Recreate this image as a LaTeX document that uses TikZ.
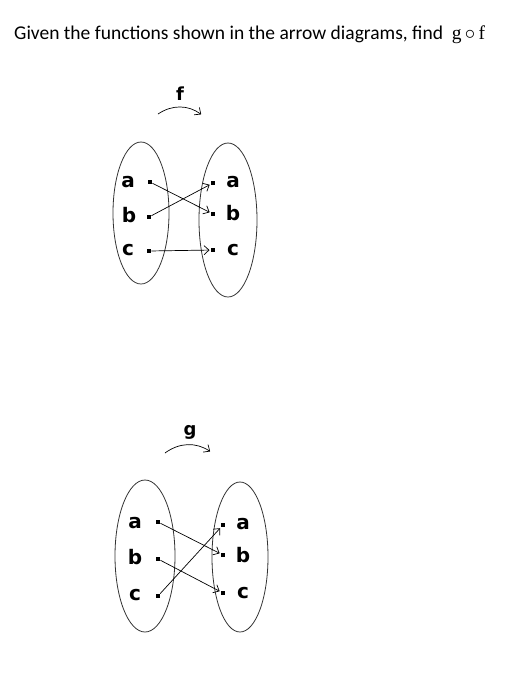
\documentclass[tikz,border=0pt]{standalone}
\usepackage{fontspec}
\setmainfont{Carlito}
\newfontfamily\labelfont{DejaVu Sans Bold}
\newfontfamily\mathletter{Liberation Serif}
\usetikzlibrary{arrows,arrows.meta}
\tikzset{
  setlabel/.style={font=\labelfont\fontsize{20}{20}\selectfont, inner sep=0pt},
  elem/.style={fill=black, minimum size=4.5pt, inner sep=0pt},
  setoval/.style={draw=black!80, line width=0.8pt},
  maparrow/.style={-{Straight Barb[length=5pt,width=9pt]}, line width=0.7pt, shorten >=1pt},
  mapname/.style={font=\labelfont\fontsize{18}{18}\selectfont, inner sep=0pt},
}

\begin{document}
\begin{tikzpicture}[x=1pt,y=-1pt]
  \useasboundingbox (0,0) rectangle (523,673);
  \node[anchor=base west, inner sep=0pt, font=\fontsize{19.5}{22}\selectfont] (title) at (14,39)
    {Given the functions shown in the arrow diagrams, find\ \ {\mathletter g}\,$\circ$\,{\mathletter f}}; % question

  % map f
  \node[mapname] (fname) at (180,94) {f}; % f label
  \coordinate (fs) at (158,114);
  \coordinate (fe) at (202,115);
  \draw[maparrow] (fs) to[bend left=35] (fe); % f arc
  \draw[setoval] (141,213) ellipse (28 and 71); % domain of f
  \draw[setoval] (228,220) ellipse (29 and 77); % codomain of f
  \node[setlabel] (fxa) at (128,182) {a};
  \node[setlabel] (fxb) at (129,215) {b};
  \node[setlabel] (fxc) at (128,250) {c};
  \node[elem] (fpa) at (150,182) {};
  \node[elem] (fpb) at (149,217) {};
  \node[elem] (fpc) at (149,251) {};
  \node[elem] (fqa) at (213,183) {};
  \node[elem] (fqb) at (213,214) {};
  \node[elem] (fqc) at (213,250) {};
  \node[setlabel] (fya) at (233,182) {a};
  \node[setlabel] (fyb) at (233,213) {b};
  \node[setlabel] (fyc) at (233,250) {c};
  \draw[maparrow] (fpa) -- (fqb); % a to b
  \draw[maparrow] (fpb) -- (fqa); % b to a
  \draw[maparrow] (fpc) -- (fqc); % c to c

  % map g
  \node[mapname] (gname) at (190,432) {g}; % g label
  \coordinate (gs) at (165,453);
  \coordinate (ge) at (211,452);
  \draw[maparrow] (gs) to[bend left=35] (ge); % g arc
  \draw[setoval] (145,556) ellipse (30 and 76); % domain of g
  \draw[setoval] (240,557) ellipse (28 and 75); % codomain of g
  \node[setlabel] (gxa) at (135,523) {a};
  \node[setlabel] (gxb) at (135,557) {b};
  \node[setlabel] (gxc) at (135,595) {c};
  \node[elem] (gpa) at (158,522) {};
  \node[elem] (gpb) at (158,559) {};
  \node[elem] (gpc) at (158,596) {};
  \node[elem] (gqa) at (223,525) {};
  \node[elem] (gqb) at (223,555) {};
  \node[elem] (gqc) at (223,593) {};
  \node[setlabel] (gya) at (243,524) {a};
  \node[setlabel] (gyb) at (243,555) {b};
  \node[setlabel] (gyc) at (243,593) {c};
  \draw[maparrow] (gpa) -- (gqb); % a to b
  \draw[maparrow] (gpb) -- (gqc); % b to c
  \draw[maparrow] (gpc) -- (gqa); % c to a
\end{tikzpicture}
\end{document}
